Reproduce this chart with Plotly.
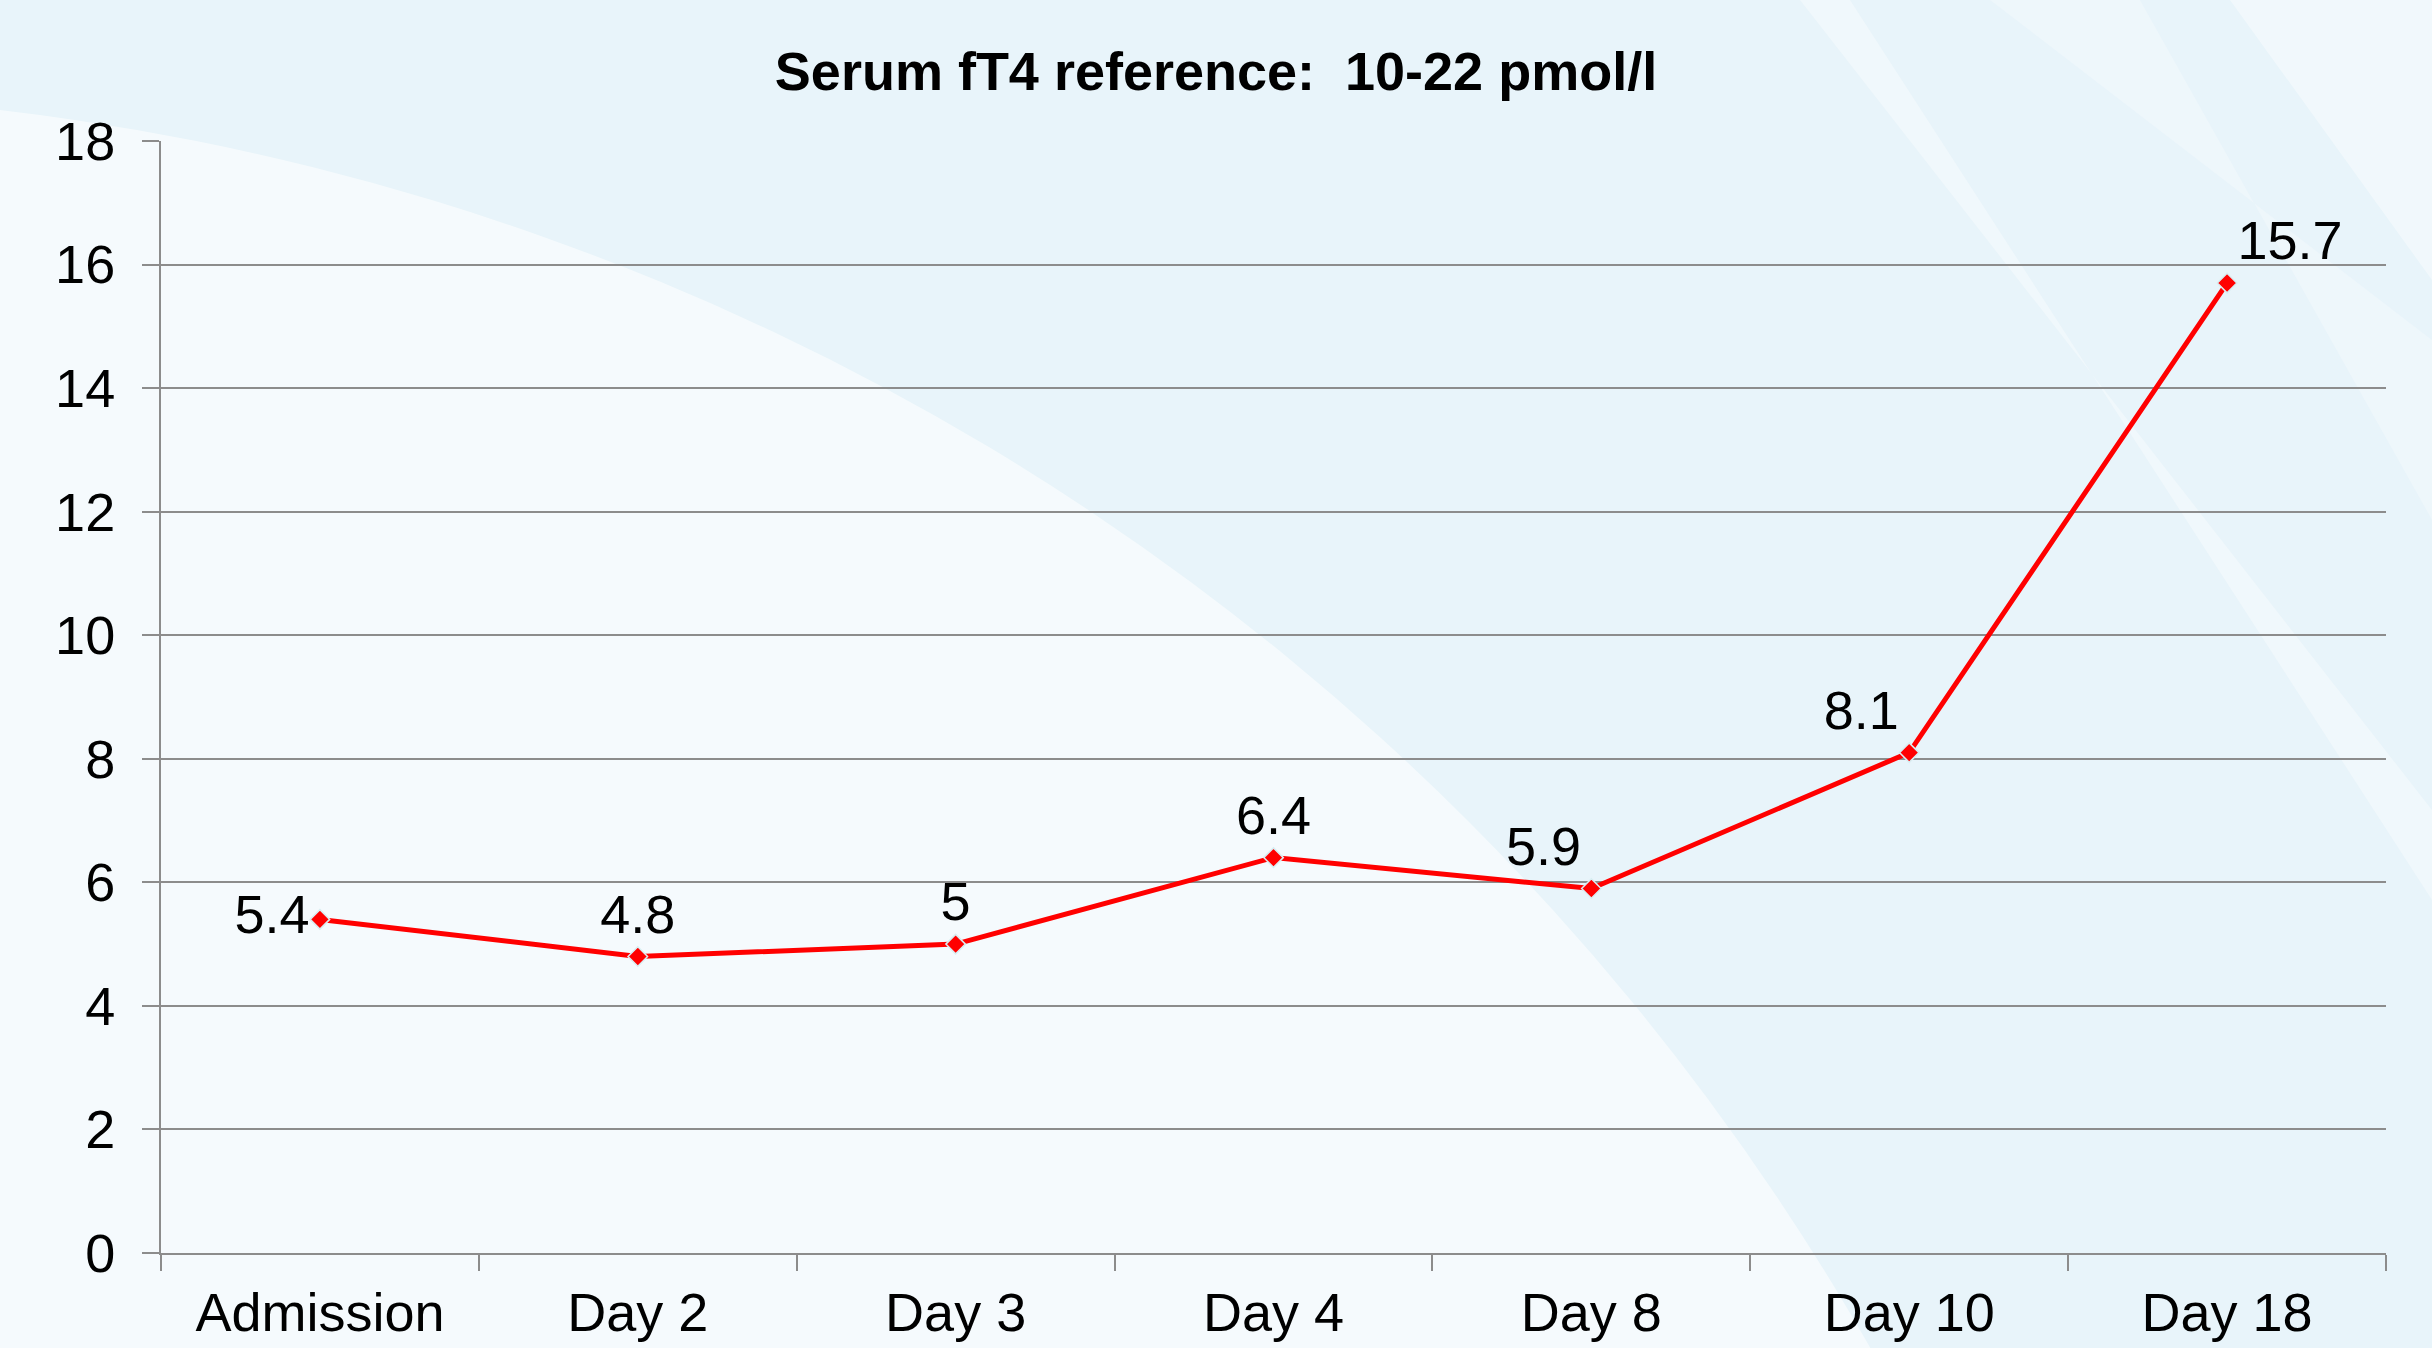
import plotly.graph_objects as go

categories = ["Admission", "Day 2", "Day 3", "Day 4", "Day 8", "Day 10", "Day 18"]
values = [5.4, 4.8, 5.0, 6.4, 5.9, 8.1, 15.7]
labels = ["5.4", "4.8", "5", "6.4", "5.9", "8.1", "15.7"]
label_pos = ["middle left", "top center", "top center", "top center", "top left", "top left", "top right"]
y_ticks = [0, 2, 4, 6, 8, 10, 12, 14, 16, 18]
title_text = "Serum fT4 reference:\u00a0\u00a010-22 pmol/l"

W, H = 2432, 1348
ML, MR, MT, MB = 161, 46, 141, 95
FONT = "Liberation Sans, Arial, sans-serif"

fig = go.Figure()
fig.add_trace(go.Scatter(
    x=categories, y=values, mode="lines+markers+text",
    text=labels, textposition=label_pos,
    textfont=dict(family=FONT, size=54, color="#000000"),
    line=dict(color="#FF0000", width=5),
    marker=dict(symbol="diamond", size=15, color="#FF0000",
                line=dict(color="#d8eef2", width=1.5)),
    cliponaxis=False, showlegend=False,
))

# background decoration (paper coords relative to plot domain)
pw, ph = W - ML - MR, H - MT - MB
def px(x):
    return (x - ML) / pw
def py(y):
    return 1 - (y - MT) / ph

shapes = []
shapes.append(dict(type="rect", xref="paper", yref="paper", layer="below",
                   x0=px(0), x1=px(W), y0=py(0), y1=py(H),
                   fillcolor="rgba(255,255,255,0.15)", line=dict(width=0)))
# big light arc region on the left
cx, cy, r = -290, 2580, 2487
shapes.append(dict(type="circle", xref="paper", yref="paper", layer="below",
                   x0=px(cx - r), x1=px(cx + r), y0=py(cy + r), y1=py(cy - r),
                   fillcolor="rgba(255,255,255,0.55)", line=dict(width=0)))
# right diagonal lighter streaks
stripes = [
    ([(1800, 0), (1850, 0), (2432, 900), (2432, 810)], 0.35),
    ([(1990, 0), (2140, 0), (2432, 520), (2432, 340)], 0.25),
    ([(2230, 0), (2432, 0), (2432, 280)], 0.4),
]
for s, a in stripes:
    path = "M " + " L ".join(f"{px(x)},{py(y)}" for x, y in s) + " Z"
    shapes.append(dict(type="path", xref="paper", yref="paper", layer="below",
                       path=path, fillcolor=f"rgba(255,255,255,{a})", line=dict(width=0)))

fig.update_layout(
    width=W, height=H,
    margin=dict(l=ML, r=MR, t=MT, b=MB, pad=0, autoexpand=False),
    paper_bgcolor="#E4F2FA",
    plot_bgcolor="rgba(0,0,0,0)",
    shapes=shapes,
    title=dict(text=f"<b>{title_text}</b>", x=0.5, xanchor="center", xref="container",
               y=1 - 71 / H, yanchor="middle", yref="container",
               font=dict(family=FONT, size=54, color="#000000")),
    xaxis=dict(
        type="category", range=[-0.5, 6.5], tickson="boundaries", automargin=False,
        ticks="outside", ticklen=16, tickwidth=2, tickcolor="#8c8c8c",
        showline=True, linecolor="#8c8c8c", linewidth=2,
        showgrid=False, zeroline=False,
        tickfont=dict(family=FONT, size=54, color="#000000"),
        ticklabelstandoff=11,
    ),
    yaxis=dict(
        range=[0, 18], tickvals=y_ticks, ticktext=[str(v) for v in y_ticks], automargin=False,
        ticks="outside", ticklen=17, tickwidth=2, tickcolor="#8c8c8c",
        showline=True, linecolor="#8c8c8c", linewidth=2,
        showgrid=True, gridcolor="#8c8c8c", gridwidth=2, zeroline=False,
        tickfont=dict(family=FONT, size=54, color="#000000"),
        ticklabelstandoff=16,
    ),
)

fig.write_html("out.html", config={"displayModeBar": False},
               post_script="document.body.style.margin='0';document.body.style.overflow='hidden';")
